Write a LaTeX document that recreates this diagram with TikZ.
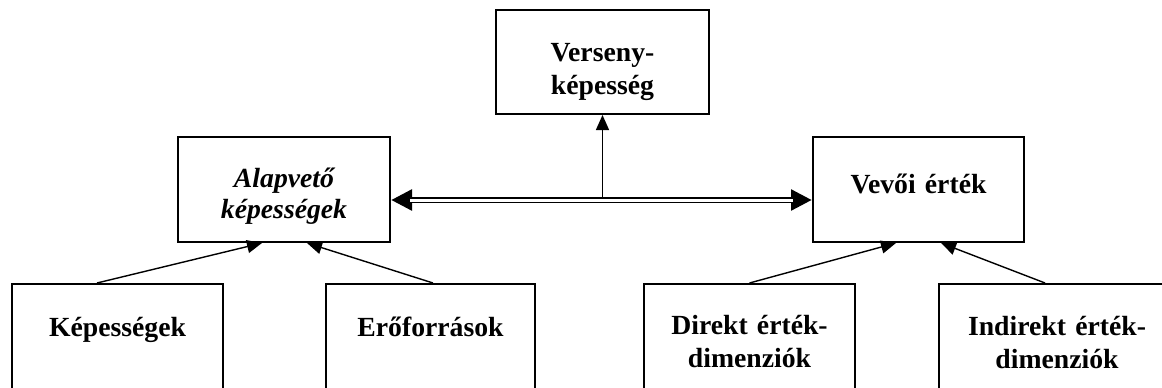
\documentclass[tikz,border=0pt]{standalone}
\usepackage{fontspec}
\setmainfont{Liberation Serif}
\usetikzlibrary{arrows.meta,calc}

\tikzset{
  box/.style={draw, line width=2pt, rectangle, inner sep=0pt, align=center,
    anchor=base, font=\fontsize{27.7}{33}\selectfont\bfseries},
  arr/.style={line width=1.4pt, -{Triangle[length=15pt,width=13pt]}},
  dblouter/.style={line width=6.2pt,
    {Triangle[length=21pt,width=20pt]}-{Triangle[length=21pt,width=20pt]}},
  dblinner/.style={white, line width=3pt, shorten <=19pt, shorten >=19pt}
}

\begin{document}
\begin{tikzpicture}[x=1pt, y=-1pt]
  \useasboundingbox (0,0) rectangle (1162,388);
  \clip (0,0) rectangle (1162,388);

  % upper level
  \node[box, text width=213pt, text height=51pt, text depth=53pt] (ver) at (602.5,61)
    {Verseny-\\képesség};
  \node[box, text width=212pt, text height=50pt, text depth=55pt,
        font=\fontsize{27.7}{31}\selectfont\bfseries\itshape] (alap) at (284,187)
    {Alapvető\\képességek};
  \node[box, text width=211pt, text height=56pt, text depth=49pt] (vevo) at (918.5,193)
    {Vevői érték};

  % lower level (boxes run off the bottom edge)
  \node[box, text width=211pt, text height=52pt, text depth=100pt] (kep) at (117.5,336)
    {Képességek};
  \node[box, text width=209pt, text height=52pt, text depth=100pt] (ero) at (430.5,336)
    {Erőforrások};
  \node[box, text width=211pt, text height=50pt, text depth=100pt] (dir) at (749.5,334)
    {Direkt érték-\\dimenziók};
  \node[box, text width=236pt, text height=51pt, text depth=100pt] (ind) at (1057,335)
    {Indirekt érték-\\dimenziók};

  % double connector between the two middle boxes
  \coordinate (la) at ([yshift=-10.5pt]alap.east);
  \coordinate (ra) at ([yshift=-10.5pt]vevo.west);
  \draw[dblouter] (la) -- (ra);
  \draw[dblinner] (la) -- (ra);
  \coordinate (jn) at ([yshift=-8pt]alap.east);
  \draw[arr] (ver.south |- jn) -- (ver.south);

  % contributions from the lower level
  \draw[arr] ([xshift=-20.5pt]kep.north) -- ([xshift=-22pt]alap.south);
  \draw[arr] ([xshift=2.5pt]ero.north) -- ([xshift=23pt]alap.south);
  \draw[arr] (dir.north) -- ([xshift=-22.5pt]vevo.south);
  \draw[arr] ([xshift=-12pt]ind.north) -- ([xshift=22.5pt]vevo.south);
\end{tikzpicture}
\end{document}
